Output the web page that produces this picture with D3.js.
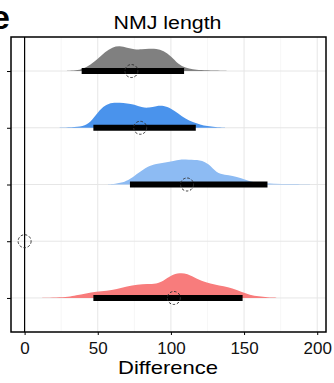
<!DOCTYPE html>
<html>
<head>
<meta charset="utf-8">
<script src="https://cdn.jsdelivr.net/npm/d3@7"></script>
<style>
  body { margin: 0; background: #fff; }
  text { font-family: "Liberation Sans", Arial, sans-serif; }
</style>
</head>
<body>
<div id="viz"></div>
<script>
const width = 334;
const height = 383;
const margin = {top: 37, right: 8, bottom: 51, left: 11};

// rows, top to bottom
const groups = ['g1', 'g2', 'g3', 'g4', 'g5'];
const colors = ['#808080', '#4a93ec', '#8dbbf3', null, '#f87c7c'];
const pointEst = [73, 79, 111, 0, 102];
const lower = [39, 47, 72, null, 47];
const upper = [109, 117, 166, null, 149];

// density outlines: [difference, relative density]
const dens1 = [[29,0.01],[35,0.02],[40,0.08],[45,0.24],[50,0.46],[55,0.74],[60,0.92],[65,0.97],[70,0.9],[75,0.83],[80,0.83],[85,0.86],[90,0.86],[95,0.78],[100,0.58],[105,0.26],[110,0.12],[115,0.07],[120,0.04],[130,0.02],[138,0.01]];
const dens2 = [[24,0.01],[32,0.02],[40,0.05],[45,0.2],[50,0.6],[55,0.88],[60,0.97],[65,0.96],[70,0.94],[75,0.9],[80,0.78],[85,0.76],[90,0.84],[95,0.86],[100,0.74],[105,0.56],[110,0.34],[115,0.22],[120,0.12],[125,0.06],[130,0.03],[137,0.01]];
const dens3 = [[57,0.01],[62,0.03],[67,0.07],[72,0.2],[78,0.45],[84,0.7],[90,0.8],[96,0.84],[102,0.9],[106,0.97],[112,0.95],[120,0.95],[126,0.8],[131,0.45],[137,0.37],[142,0.34],[148,0.24],[154,0.12],[160,0.05],[170,0.03],[182,0.02],[195,0.01]];
const dens5 = [[12,0.01],[22,0.02],[30,0.04],[35,0.1],[42,0.17],[49,0.24],[56,0.28],[63,0.33],[70,0.45],[77,0.52],[84,0.54],[90,0.54],[95,0.66],[100,0.87],[106,0.97],[111,0.94],[118,0.72],[124,0.6],[130,0.52],[136,0.45],[142,0.37],[148,0.23],[154,0.12],[160,0.06],[166,0.03],[172,0.01]];
const densities = [dens1, dens2, dens3, null, dens5];

const xTicks = [0, 50, 100, 150, 200];
const xMinor = [25, 75, 125, 175];

const svg = d3.select('#viz').append('svg')
  .attr('width', width)
  .attr('height', height);

const x = d3.scaleLinear()
  .domain([-9.3, 206])
  .range([margin.left, width - margin.right]);

const y = d3.scalePoint()
  .domain(groups)
  .range([margin.top, height - margin.bottom])
  .padding(0.6);

const h = d3.scaleLinear().domain([0, 1]).range([0, 26]);

// grid
svg.append('g').selectAll('line')
  .data(xMinor)
  .join('line')
    .attr('x1', d => x(d)).attr('x2', d => x(d))
    .attr('y1', margin.top).attr('y2', height - margin.bottom)
    .attr('stroke', '#f2f2f2').attr('stroke-width', 0.7);

svg.append('g').selectAll('line')
  .data(xTicks)
  .join('line')
    .attr('x1', d => x(d)).attr('x2', d => x(d))
    .attr('y1', margin.top).attr('y2', height - margin.bottom)
    .attr('stroke', '#e6e6e6').attr('stroke-width', 1);

svg.append('g').selectAll('line')
  .data(groups)
  .join('line')
    .attr('x1', margin.left).attr('x2', width - margin.right)
    .attr('y1', d => y(d)).attr('y2', d => y(d))
    .attr('stroke', '#e6e6e6').attr('stroke-width', 1);

// zero line
svg.append('line')
  .attr('x1', x(0)).attr('x2', x(0))
  .attr('y1', margin.top).attr('y2', height - margin.bottom)
  .attr('stroke', '#000').attr('stroke-width', 1.2);

// densities
groups.forEach((g, i) => {
  if (!densities[i]) return;
  const area = d3.area()
    .x(d => x(d[0]))
    .y0(y(g))
    .y1(d => y(g) - h(d[1]))
    .curve(d3.curveBasis);
  svg.append('path')
    .datum(densities[i])
    .attr('d', area)
    .attr('fill', colors[i]);
});

// interval bars
groups.forEach((g, i) => {
  if (lower[i] == null) return;
  svg.append('line')
    .attr('x1', x(lower[i])).attr('x2', x(upper[i]))
    .attr('y1', y(g)).attr('y2', y(g))
    .attr('stroke', '#000').attr('stroke-width', 6);
});

// point estimates
svg.append('g').selectAll('circle')
  .data(groups)
  .join('circle')
    .attr('cx', (d, i) => x(pointEst[i]))
    .attr('cy', d => y(d))
    .attr('r', 6.5)
    .attr('fill', 'none')
    .attr('stroke', '#333')
    .attr('stroke-width', 1)
    .attr('stroke-dasharray', '2.5,1.8');

// panel border
svg.append('rect')
  .attr('x', margin.left).attr('y', margin.top)
  .attr('width', width - margin.left - margin.right)
  .attr('height', height - margin.top - margin.bottom)
  .attr('fill', 'none').attr('stroke', '#000').attr('stroke-width', 1.5);

// axes
const xAxis = svg.append('g')
  .attr('transform', `translate(0,${height - margin.bottom})`)
  .call(d3.axisBottom(x).tickValues(xTicks).tickSize(3).tickPadding(7));
xAxis.select('.domain').remove();
xAxis.selectAll('text').attr('font-size', 17).attr('fill', '#111')
  .style('font-family', '"Liberation Sans", Arial, sans-serif');

const yAxis = svg.append('g')
  .attr('transform', `translate(${margin.left},0)`)
  .call(d3.axisLeft(y).tickSize(4).tickFormat(''));
yAxis.select('.domain').remove();

// labels
svg.append('text')
  .attr('x', 167.5).attr('y', 29)
  .attr('text-anchor', 'middle')
  .attr('font-size', 18)
  .attr('textLength', 108)
  .attr('lengthAdjust', 'spacingAndGlyphs')
  .text('NMJ length');

svg.append('text')
  .attr('x', 168).attr('y', 374)
  .attr('text-anchor', 'middle')
  .attr('font-size', 19)
  .attr('textLength', 100)
  .attr('lengthAdjust', 'spacingAndGlyphs')
  .text('Difference');

svg.append('text')
  .attr('x', -9).attr('y', 29)
  .attr('font-size', 34)
  .attr('font-weight', 'bold')
  .text('e');
</script>
</body>
</html>
